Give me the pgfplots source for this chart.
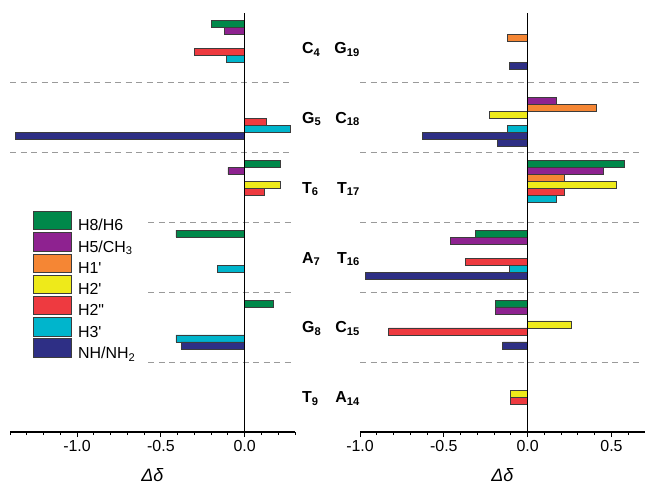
\documentclass[border=0pt]{standalone}
\usepackage{pgfplots}
\pgfplotsset{compat=1.18}
\usepackage{fontspec}
\setmainfont{Liberation Sans}[Ligatures=TeXOff]
\definecolor{cgreen}{HTML}{00884A}
\definecolor{cpurple}{HTML}{8E2290}
\definecolor{corange}{HTML}{F58634}
\definecolor{cyellow}{HTML}{EEEA1A}
\definecolor{cred}{HTML}{EE3A40}
\definecolor{ccyan}{HTML}{00B5CC}
\definecolor{cnavy}{HTML}{2E2F85}
\definecolor{cedge}{HTML}{3C3C3C}
\definecolor{csep}{HTML}{9A9A9A}
\tikzset{
  sep/.style={csep, line width=0.9bp, dash pattern=on 6bp off 4.5bp},
  glab/.style={inner sep=0pt, font=\fontsize{16}{19}\selectfont\bfseries},
}
\pgfplotsset{
  panel/.style={
    scale only axis, width=285bp, height=419bp, anchor=south west,
    ymin=-0.5, ymax=5.5, axis y line=none, axis x line*=bottom,
    x axis line style={-, line width=1.1bp},
    xbar, bar width=6.98bp, clip=false,
    tick align=outside, major tick length=5bp, minor tick length=3bp,
    every tick/.style={black, line width=0.9bp},
    xticklabel style={font=\fontsize{16}{19}\selectfont, /pgf/number format/.cd, fixed, fixed zerofill, precision=1, assume math mode=true},
    xlabel={\fontsize{18}{21}\selectfont\textit{Δδ}},
    xlabel style={yshift=-10bp},
  },
  s0/.style={fill=cgreen, draw=cedge, line width=0.8bp, bar shift=23.74bp},
  s1/.style={fill=cpurple, draw=cedge, line width=0.8bp, bar shift=16.76bp},
  s2/.style={fill=corange, draw=cedge, line width=0.8bp, bar shift=9.78bp},
  s3/.style={fill=cyellow, draw=cedge, line width=0.8bp, bar shift=2.79bp},
  s4/.style={fill=cred, draw=cedge, line width=0.8bp, bar shift=-4.19bp},
  s5/.style={fill=ccyan, draw=cedge, line width=0.8bp, bar shift=-11.17bp},
  s6/.style={fill=cnavy, draw=cedge, line width=0.8bp, bar shift=-18.16bp},
  s7/.style={fill=cnavy, draw=cedge, line width=0.8bp, bar shift=-25.14bp},
}
\begin{document}
\begin{tikzpicture}
\useasboundingbox (0,0) rectangle (645bp,484bp);
% ---------------- left panel ----------------
\begin{axis}[panel, at={(10bp,52bp)},
  xmin=-1.4, xmax=0.3,
  xtick={-1,-0.5,0},
  minor xtick={-1.4,-1.3,-1.2,-1.1,-0.9,-0.8,-0.7,-0.6,-0.4,-0.3,-0.2,-0.1,0.1,0.2,0.3},
  legend image code/.code={\draw[#1] (0bp,-3.8bp) rectangle (38bp,14.8bp); \path (44bp,0bp);},
  legend style={at={(axis cs:-1.261,2.669)}, anchor=north west, draw=none, fill=none,
    inner sep=0pt, outer sep=0pt, row sep=-0.3bp, font=\fontsize{16}{19}\selectfont,
    nodes={inner sep=0pt}},
  legend cell align=left,
]
\draw[sep] (axis cs:-1.4,4.5) -- (axis cs:0.285,4.5);
\draw[sep] (axis cs:-1.4,3.5) -- (axis cs:0.285,3.5);
\draw[sep] (axis cs:-0.575,2.5) -- (axis cs:0.285,2.5);
\draw[sep] (axis cs:-0.575,1.5) -- (axis cs:0.285,1.5);
\draw[sep] (axis cs:-0.575,0.5) -- (axis cs:0.285,0.5);
\addplot[s0, forget plot] coordinates {(-0.20,5) (0.21,3) (-0.41,2) (0.17,1)};
\addplot[s1, forget plot] coordinates {(-0.12,5) (-0.10,3)};
\addplot[s3, forget plot] coordinates {(0.21,3)};
\addplot[s4, forget plot] coordinates {(-0.30,5) (0.13,4) (0.12,3)};
\addplot[s5, forget plot] coordinates {(-0.11,5) (0.27,4) (-0.16,2) (-0.41,1)};
\addplot[s6, forget plot] coordinates {(-1.37,4) (-0.38,1)};
\draw[black, line width=1.1bp] (axis cs:0,-0.5) -- (axis cs:0,5.5);
\addlegendimage{s0}\addlegendentry{H8/H6}
\addlegendimage{s1}\addlegendentry{H5/CH\textsubscript{3}}
\addlegendimage{s2}\addlegendentry{H1'}
\addlegendimage{s3}\addlegendentry{H2'}
\addlegendimage{s4}\addlegendentry{H2"}
\addlegendimage{s5}\addlegendentry{H3'}
\addlegendimage{s6}\addlegendentry{NH/NH\textsubscript{2}}
\node[glab, anchor=base west, xshift=7bp] at (axis cs:0.3,4.92) {C\textsubscript{4}};
\node[glab, anchor=base west, xshift=7bp] at (axis cs:0.3,3.92) {G\textsubscript{5}};
\node[glab, anchor=base west, xshift=7bp] at (axis cs:0.3,2.92) {T\textsubscript{6}};
\node[glab, anchor=base west, xshift=7bp] at (axis cs:0.3,1.92) {A\textsubscript{7}};
\node[glab, anchor=base west, xshift=7bp] at (axis cs:0.3,0.92) {G\textsubscript{8}};
\node[glab, anchor=base west, xshift=7bp] at (axis cs:0.3,-0.08) {T\textsubscript{9}};
\end{axis}
% ---------------- right panel ----------------
\begin{axis}[panel, at={(360bp,52bp)},
  xmin=-1, xmax=0.7,
  xtick={-1,-0.5,0,0.5},
  minor xtick={-0.9,-0.8,-0.7,-0.6,-0.4,-0.3,-0.2,-0.1,0.1,0.2,0.3,0.4,0.6,0.7},
]
\draw[sep] (axis cs:-1,4.5) -- (axis cs:0.69,4.5);
\draw[sep] (axis cs:-1,3.5) -- (axis cs:0.69,3.5);
\draw[sep] (axis cs:-1,2.5) -- (axis cs:0.69,2.5);
\draw[sep] (axis cs:-1,1.5) -- (axis cs:0.69,1.5);
\draw[sep] (axis cs:-1,0.5) -- (axis cs:0.69,0.5);
\addplot[s0, forget plot] coordinates {(0.58,3) (-0.31,2) (-0.19,1)};
\addplot[s1, forget plot] coordinates {(0.17,4) (0.45,3) (-0.46,2) (-0.19,1)};
\addplot[s2, forget plot] coordinates {(-0.12,5) (0.41,4) (0.22,3)};
\addplot[s3, forget plot] coordinates {(-0.23,4) (0.53,3) (0.26,1) (-0.10,0)};
\addplot[s4, forget plot] coordinates {(0.22,3) (-0.37,2) (-0.83,1) (-0.10,0)};
\addplot[s5, forget plot] coordinates {(-0.12,4) (0.17,3) (-0.11,2)};
\addplot[s6, forget plot] coordinates {(-0.11,5) (-0.63,4) (-0.97,2) (-0.15,1)};
\addplot[s7, forget plot] coordinates {(-0.18,4)};
\draw[black, line width=1.1bp] (axis cs:0,-0.5) -- (axis cs:0,5.5);
\node[glab, anchor=base east] at (axis cs:-1,4.92) {G\textsubscript{19}};
\node[glab, anchor=base east] at (axis cs:-1,3.92) {C\textsubscript{18}};
\node[glab, anchor=base east] at (axis cs:-1,2.92) {T\textsubscript{17}};
\node[glab, anchor=base east] at (axis cs:-1,1.92) {T\textsubscript{16}};
\node[glab, anchor=base east] at (axis cs:-1,0.92) {C\textsubscript{15}};
\node[glab, anchor=base east] at (axis cs:-1,-0.08) {A\textsubscript{14}};
\end{axis}
\end{tikzpicture}
\end{document}
